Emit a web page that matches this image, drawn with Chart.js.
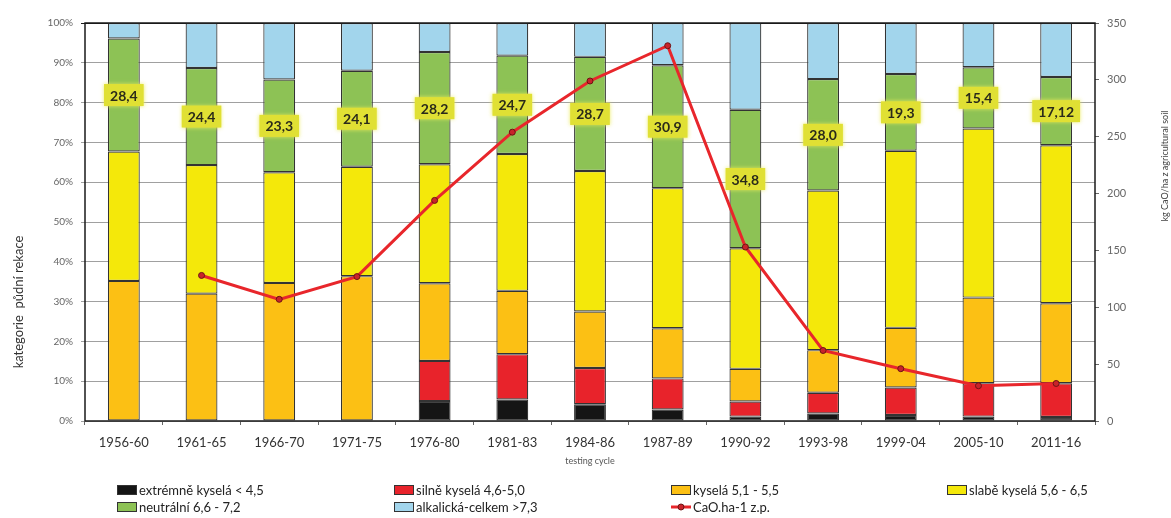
<!DOCTYPE html>
<html>
<head>
<meta charset="utf-8">
<script src="https://cdn.jsdelivr.net/npm/chart.js@4/dist/chart.umd.min.js"></script>
<style>
  html,body{margin:0;padding:0;background:#fff;}
  #wrap{width:1171px;height:518px;position:relative;}
</style>
</head>
<body>
<div id="wrap"><canvas id="c" width="1171" height="518"></canvas></div>
<script>
const categories = ['1956-60','1961-65','1966-70','1971-75','1976-80','1981-83','1984-86','1987-89','1990-92','1993-98','1999-04','2005-10','2011-16'];
const extremne  = [0,0,0,0,5.0,5.4,4.2,2.9,1.1,1.9,1.5,1.1,1.0];
const silne     = [0,0,0,0,10.1,11.4,9.1,7.8,3.8,5.2,6.9,8.4,8.5];
const kysela    = [35.2,32.0,34.7,36.4,19.5,15.9,14.2,12.6,8.2,10.7,15.0,21.5,20.1];
const slabe     = [32.5,32.3,27.8,27.5,29.9,34.4,35.3,35.2,30.3,40.1,44.5,42.5,39.7];
const neutralni = [28.4,24.4,23.3,24.1,28.2,24.7,28.7,30.9,34.8,28.0,19.3,15.4,17.12];
const alkalicka = [3.9,11.3,14.2,12.0,7.3,8.2,8.5,10.6,21.8,14.1,12.8,11.1,13.58];
const cao       = [null,128,107,127,194,254,299,330,153,62,46,31,33];
const seriesNames = ['extrémně kyselá < 4,5','silně kyselá 4,6-5,0','kyselá 5,1 - 5,5','slabě kyselá 5,6 - 6,5','neutrální 6,6 - 7,2','alkalická-celkem >7,3','CaO.ha-1 z.p.'];
const xTitle = 'testing cycle';
const yTitle = 'kategorie  půdní rekace';
const y1Title = 'kg CaO/ha z agricultural soil';

const FONT = 'Lato, "Open Sans", sans-serif';
const colors = ['#151515','#e8232b','#fcc014','#f4e80a','#8dc255','#a2d5ec'];

function fmt(v){
  const r1 = Math.round(v*10)/10;
  const s = Math.abs(v - r1) < 1e-9 ? v.toFixed(1) : v.toFixed(2);
  return s.replace('.', ',');
}

const barSeries = [extremne, silne, kysela, slabe, neutralni, alkalicka];
const datasets = barSeries.map((d,i)=>({
  type:'bar',
  label: seriesNames[i],
  data: d,
  backgroundColor: colors[i],
  borderColor: '#333333',
  borderWidth: 1.2,
  borderSkipped: false,
  yAxisID: 'y',
  stack: 's',
  order: 2,
  categoryPercentage: 1,
  barPercentage: 0.41
}));
datasets.push({
  type:'line',
  label: seriesNames[6],
  data: cao,
  yAxisID: 'y1',
  borderColor: '#e8262b',
  borderWidth: 3,
  pointRadius: 3,
  pointBackgroundColor: '#c8232a',
  pointBorderColor: '#6e1414',
  pointBorderWidth: 1,
  tension: 0,
  order: 1,
  spanGaps: false
});

const labelPlugin = {
  id:'greenLabels',
  afterDatasetsDraw(chart){
    const ctx = chart.ctx;
    const meta = chart.getDatasetMeta(4);
    ctx.save();
    ctx.font = 'bold 14px ' + FONT;
    ctx.textAlign = 'center';
    ctx.textBaseline = 'middle';
    meta.data.forEach((bar, i) => {
      const p = bar.getProps(['x','y','base'], true);
      const cy = (p.y + p.base)/2;
      const txt = fmt(neutralni[i]);
      const w = ctx.measureText(txt).width + 12;
      const h = 22;
      ctx.shadowColor = 'rgba(235,235,90,0.9)';
      ctx.shadowBlur = 4;
      ctx.fillStyle = '#e0e034';
      ctx.fillRect(p.x - w/2, cy - h/2, w, h);
      ctx.shadowBlur = 0;
      ctx.fillStyle = '#2a2a1a';
      ctx.fillText(txt, p.x, cy + 1);
    });
    ctx.restore();
  },
  afterDraw(chart){
    const ctx = chart.ctx;
    const ca = chart.chartArea;
    ctx.save();
    ctx.strokeStyle = '#1a1a1a';
    ctx.lineWidth = 1.5;
    ctx.strokeRect(ca.left, ca.top, ca.right - ca.left, ca.bottom - ca.top);
    ctx.fillStyle = '#555';
    ctx.font = '9px ' + FONT;
    ctx.textAlign = 'center';
    ctx.textBaseline = 'middle';
    ctx.fillText(xTitle, (ca.left + ca.right)/2, 461);
    ctx.restore();

    ctx.save();
    ctx.fillStyle = '#333';
    ctx.font = '13px ' + FONT;
    ctx.textAlign = 'center';
    ctx.textBaseline = 'middle';
    ctx.translate(19, 302);
    ctx.rotate(-Math.PI/2);
    ctx.fillText(yTitle, 0, 0);
    ctx.restore();

    ctx.save();
    ctx.fillStyle = '#444';
    ctx.font = '9px ' + FONT;
    ctx.textAlign = 'center';
    ctx.textBaseline = 'middle';
    ctx.translate(1165, 166);
    ctx.rotate(-Math.PI/2);
    ctx.fillText(y1Title, 0, 0);
    ctx.restore();

    ctx.save();
    const cols = [117, 394, 671, 947];
    const rows = [490, 507];
    ctx.font = '13px ' + FONT;
    ctx.textBaseline = 'middle';
    ctx.textAlign = 'left';
    chart.data.datasets.forEach((ds, i) => {
      const x = cols[i % 4];
      const y = rows[Math.floor(i / 4)];
      if (ds.type === 'bar') {
        ctx.fillStyle = ds.backgroundColor;
        ctx.fillRect(x, y - 5, 20, 10);
        ctx.strokeStyle = '#333';
        ctx.lineWidth = 1;
        ctx.strokeRect(x + 0.5, y - 4.5, 19, 9);
      } else {
        ctx.strokeStyle = ds.borderColor;
        ctx.lineWidth = 3;
        ctx.beginPath(); ctx.moveTo(x, y); ctx.lineTo(x + 20, y); ctx.stroke();
        ctx.fillStyle = ds.pointBackgroundColor;
        ctx.strokeStyle = ds.pointBorderColor;
        ctx.lineWidth = 1;
        ctx.beginPath(); ctx.arc(x + 10, y, 3, 0, Math.PI*2); ctx.fill(); ctx.stroke();
      }
      ctx.fillStyle = '#222';
      ctx.fillText(ds.label, x + 22, y + 1);
    });
    ctx.restore();
  }
};

new Chart(document.getElementById('c'), {
  data: { labels: categories, datasets },
  options: {
    responsive: false,
    animation: false,
    layout: { padding: { top: 23, left: 0, right: 0, bottom: 0 } },
    plugins: { legend: { display: false }, tooltip: { enabled: false } },
    scales: {
      x: {
        stacked: true,
        offset: true,
        grid: { display: true, drawOnChartArea: false, drawTicks: true, tickLength: 4, color: '#666', offset: true },
        border: { display: false },
        ticks: { color: '#333', font: { family: FONT, size: 13 }, padding: 10, maxRotation: 0, autoSkip: false },
        title: { display: false },
        afterFit(s){ s.height = 97; }
      },
      y: {
        stacked: true,
        position: 'left',
        min: 0, max: 100,
        ticks: { stepSize: 10, color: '#666', font: { family: FONT, size: 10 }, padding: 8, callback: v => v + '%' },
        grid: { color: ctx => ctx.tick && ctx.tick.value === 100 ? '#1a1a1a' : '#a0a0a0', lineWidth: 1, tickLength: 4, drawTicks: true },
        border: { display: false },
        afterFit(s){ s.width = 85; }
      },
      y1: {
        position: 'right',
        min: 0, max: 350,
        ticks: { stepSize: 50, color: '#666', font: { family: FONT, size: 11 }, padding: 8 },
        grid: { drawOnChartArea: false, drawTicks: true, tickLength: 4, color: '#666' },
        border: { display: false },
        afterFit(s){ s.width = 76; }
      }
    }
  },
  plugins: [labelPlugin]
});
</script>
</body>
</html>
